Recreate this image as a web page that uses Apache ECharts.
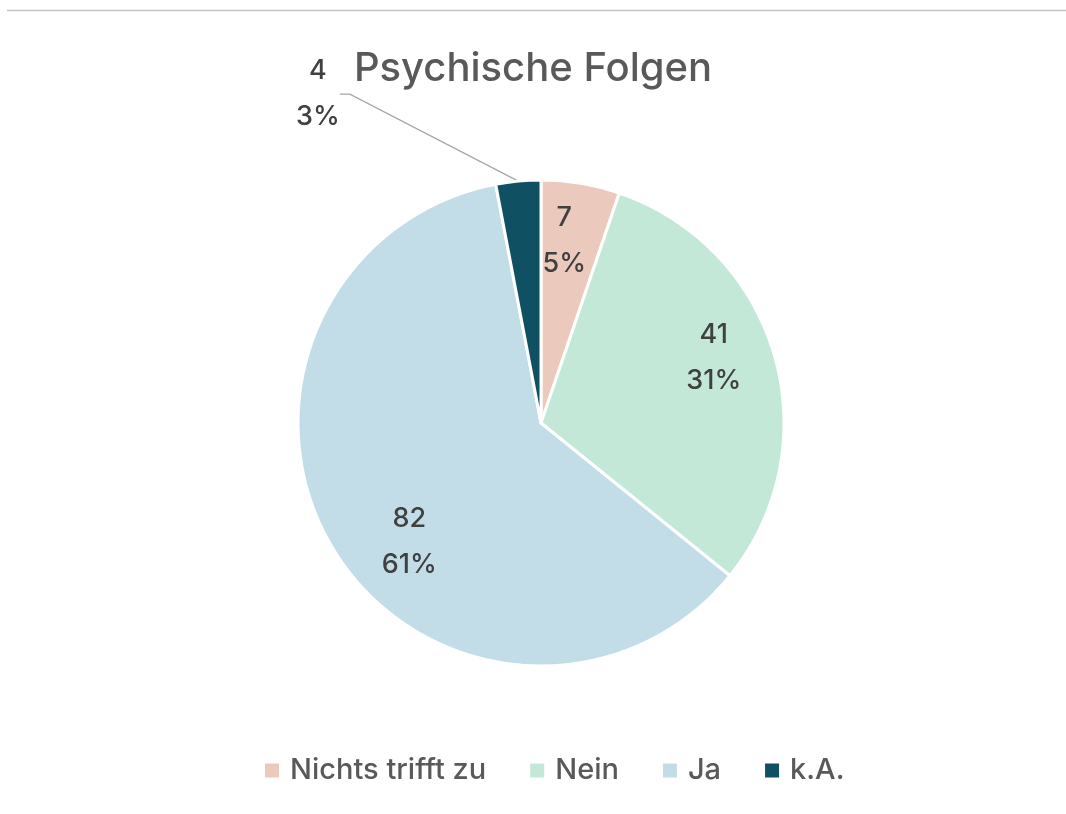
<!DOCTYPE html>
<html><head><meta charset="utf-8">
<script src="https://cdn.jsdelivr.net/npm/echarts@6/dist/echarts.min.js"></script>
<style>html,body{margin:0;padding:0;background:#fff}#c{width:1066px;height:814px}</style>
</head><body><div id="c"></div>
<script>
const categories = ['Nichts trifft zu', 'Nein', 'Ja', 'k.A.'];
const values = [7, 41, 82, 4];
const colors = ['#EBCABD', '#C4E8D8', '#C2DDE7', '#0F5163'];
const titleText = 'Psychische Folgen';

const total = values.reduce((a, b) => a + b, 0);
const pct = v => Math.round(v / total * 100) + '%';
const font = 'Inter';
const labelText = { fontFamily: font, fontSize: 27, fontWeight: 500, color: '#404040', lineHeight: 46 };
// small label nudges (px) to mimic the original label placement
const labelNudge = [[-7, 0], [-5, -14], [27, 24], [0, 0]];

const chart = echarts.init(document.getElementById('c'));
chart.setOption({
  animation: false,
  color: colors,
  title: {
    text: titleText, left: 'center', top: 44,
    textStyle: { fontFamily: font, fontSize: 40, fontWeight: 500, color: '#595959' }
  },
  legend: {
    bottom: 24, left: 258, itemWidth: 16, itemHeight: 16, itemGap: 42, icon: 'rect',
    textStyle: { fontFamily: font, fontSize: 29, fontWeight: 500, color: '#595959', padding: [0, 0, 0, 5] },
    data: categories
  },
  graphic: [{
    type: 'line', shape: { x1: 7, y1: 10.5, x2: 1066, y2: 10.5 },
    style: { stroke: '#c4c4c4', lineWidth: 1.5 }, silent: true
  }],
  series: [
    {
      type: 'pie', center: [541, 423], radius: 243, startAngle: 90, clockwise: true,
      itemStyle: { borderColor: '#fff', borderWidth: 3 },
      label: { show: false },
      labelLine: { show: false },
      emphasis: { disabled: true },
      labelLayout: function (p) {
        if (p.dataIndex !== 3) return {};
        return {
          x: p.labelRect.x + p.labelRect.width / 2 - 162,
          y: p.labelRect.y + p.labelRect.height / 2 - 72,
          align: 'center', verticalAlign: 'middle'
        };
      },
      data: categories.map((n, i) => ({
        name: n, value: values[i],
        label: i === 3 ? Object.assign({
          show: true, position: 'outside', align: 'center',
          formatter: p => p.value + '\n' + pct(p.value)
        }, labelText) : undefined,
        labelLine: i === 3 ? { show: true, length: 15, length2: 10, lineStyle: { color: '#a6a6a6', width: 1.3 } } : undefined
      }))
    },
    {
      type: 'pie', center: [541, 423], radius: 364, startAngle: 90, clockwise: true, silent: true,
      itemStyle: { color: 'transparent', borderWidth: 0 },
      emphasis: { disabled: true },
      label: Object.assign({ show: true, position: 'inside', formatter: p => p.value + '\n' + pct(p.value) }, labelText),
      labelLine: { show: false },
      labelLayout: p => ({ dx: labelNudge[p.dataIndex][0], dy: labelNudge[p.dataIndex][1] }),
      data: categories.map((n, i) => ({
        name: n, value: values[i],
        label: i === 3 ? { show: false } : undefined
      }))
    }
  ]
});
</script></body></html>
